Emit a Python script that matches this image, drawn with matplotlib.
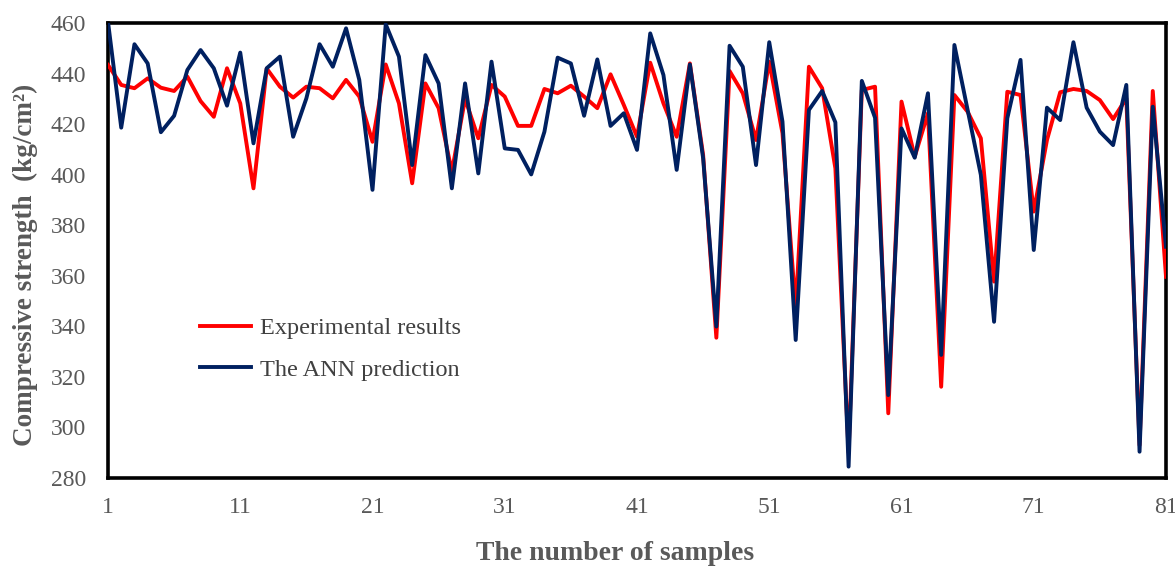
import matplotlib
matplotlib.use("Agg")
import matplotlib.pyplot as plt
import numpy as np

samples = list(range(1, 82))
experimental = [443.4, 435.5, 434.2, 438.1, 434.4, 433.1, 438.8, 429.1, 422.9, 442.1,
                428.2, 394.6, 442.0, 434.8, 430.5, 434.8, 434.2, 430.2, 437.5, 430.9,
                413.0, 443.6, 428.2, 396.6, 436.1, 426.3, 401.2, 430.0, 414.4, 435.5,
                430.9, 419.3, 419.3, 433.9, 432.2, 435.2, 430.9, 426.3, 439.7, 427.6,
                415.0, 444.3, 428.2, 415.0, 444.0, 407.8, 335.5, 441.0, 432.2, 413.7,
                444.7, 416.4, 347.0, 442.7, 434.2, 402.5, 290.0, 433.5, 434.8, 305.6,
                428.9, 407.1, 424.3, 316.1, 431.5, 424.9, 414.4, 357.7, 432.8, 431.5,
                385.4, 413.7, 432.6, 433.9, 433.1, 429.5, 422.0, 430.2, 293.0, 433.1,
                359.6]
ann = [460.5, 418.6, 451.6, 444.0, 416.8, 423.3, 441.4, 449.3, 442.1, 427.3,
       448.3, 412.4, 442.1, 446.7, 415.0, 430.2, 451.6, 442.7, 457.9, 437.5,
       394.0, 459.5, 446.7, 403.8, 447.3, 436.1, 394.6, 436.1, 400.5, 444.7,
       410.4, 409.8, 400.1, 417.0, 446.3, 444.0, 423.3, 445.6, 419.3, 424.3,
       409.8, 455.9, 439.4, 401.9, 443.6, 406.5, 339.9, 451.0, 442.7, 403.8,
       452.4, 421.0, 334.6, 425.6, 433.1, 420.7, 284.5, 437.1, 422.5, 312.8,
       418.3, 406.7, 432.2, 328.7, 451.3, 425.6, 399.9, 341.8, 422.3, 445.4,
       370.2, 426.5, 421.6, 452.4, 426.5, 417.0, 411.7, 435.5, 290.4, 426.9,
       371.5]
xticks = [1, 11, 21, 31, 41, 51, 61, 71, 81]
yticks = [280, 300, 320, 340, 360, 380, 400, 420, 440, 460]

plt.rcParams['font.family'] = ['Liberation Serif', 'DejaVu Serif']

fig = plt.figure(figsize=(11.75, 5.68), dpi=100)
ax = fig.add_axes([108/1175, 1-478/568, (1166-108)/1175, (478-23)/568])

ax.plot(samples, experimental, color='#FF0000', lw=2.8, label='Experimental results',
        solid_joinstyle='round', zorder=3)
ax.plot(samples, ann, color='#002060', lw=2.8, label='The ANN prediction',
        solid_joinstyle='round', zorder=4)

ax.set_xlim(1, 81)
ax.set_ylim(280, 460)
ax.set_xticks(xticks)
ax.set_yticks(yticks)
ax.tick_params(axis='both', length=0, labelsize=17, labelcolor='#595959')
ax.tick_params(axis='x', pad=14)
ax.tick_params(axis='y', pad=16)
for sp in ax.spines.values():
    sp.set_color('black')
    sp.set_linewidth(2.6)

leg = ax.legend(loc='center left', bbox_to_anchor=(0.078, 0.2835), frameon=False,
                borderaxespad=0, fontsize=17.5, handlelength=2.1, handletextpad=0.35,
                labelspacing=0.8)
for t in leg.get_texts():
    t.set_color('#404040')

fig.text(25/1175, 1-265/568, 'Compressive strength  (kg/cm²)', rotation=90,
         ha='center', va='center', fontsize=19.5, fontweight='bold', color='#595959')
fig.text(615/1175, 1-553/568, 'The number of samples', ha='center', va='center',
         fontsize=20, fontweight='bold', color='#595959')

fig.savefig('out.png', dpi=100)
